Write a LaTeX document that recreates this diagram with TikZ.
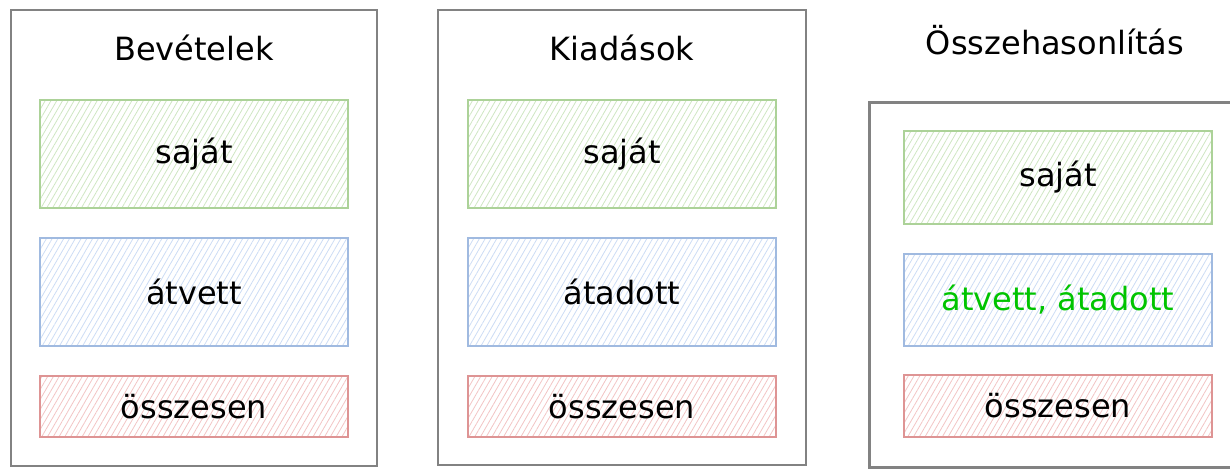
\documentclass[tikz,border=0pt]{standalone}
\usepackage{fontspec}
\setmainfont{DejaVu Sans}
\usetikzlibrary{patterns.meta}

\definecolor{sajatline}{RGB}{172,210,152}
\definecolor{sajathatch}{RGB}{206,230,194}
\definecolor{atvline}{RGB}{160,186,224}
\definecolor{atvhatch}{RGB}{204,220,244}
\definecolor{osszline}{RGB}{222,148,148}
\definecolor{osszhatch}{RGB}{242,196,196}
\definecolor{panelline}{RGB}{130,130,130}
\definecolor{kiemel}{RGB}{0,196,0}

\tikzset{
  panel/.style={draw=panelline, line width=2.6pt},
  cim/.style={font=\fontsize{32}{38}\selectfont},
  tetel/.style={font=\fontsize{32}{38}\selectfont, minimum width=308pt, line width=1.4pt},
  sajatbox/.style={tetel, draw=sajatline, pattern={Lines[angle=60,distance=5pt,line width=0.8pt]}, pattern color=sajathatch},
  atvbox/.style={tetel, draw=atvline, pattern={Lines[angle=60,distance=5pt,line width=0.8pt]}, pattern color=atvhatch},
  osszbox/.style={tetel, draw=osszline, pattern={Lines[angle=60,distance=5pt,line width=0.8pt]}, pattern color=osszhatch},
}

\begin{document}
\begin{tikzpicture}[x=1pt,y=-1pt]
    \useasboundingbox (0,0) rectangle (1230,469);
    % panels
    \node[panel, minimum width=366pt, minimum height=456pt] (bev) at (194,238) {};
    \node[panel, minimum width=368pt, minimum height=455pt] (kiad) at (622,237.5) {};
    \node[panel, anchor=north west, minimum width=370pt, minimum height=365pt] (ossz) at (868,101) {};
    % titles
    \node[cim] (bevcim) at (194,48) {Bevételek};
    \node[cim] (kiadcim) at (622,48) {Kiadások};
    \node[cim] (osszcim) at (1055,40) {Összehasonlítás};
    % Bevételek
    \node[sajatbox, minimum height=108pt] (bevsajat) at (194,154) {saját};
    \node[atvbox, minimum height=108pt] (bevatv) at (194,292) {átvett};
    \node[osszbox, minimum height=61pt] (bevossz) at (194,406.5) {összesen};
    % Kiadások
    \node[sajatbox, minimum height=108pt] (kiadsajat) at (622,154) {saját};
    \node[atvbox, minimum height=108pt] (kiadatv) at (622,292) {átadott};
    \node[osszbox, minimum height=61pt] (kiadossz) at (622,406.5) {összesen};
    % Összehasonlítás
    \node[sajatbox, minimum height=93pt] (osszsajat) at (1058,177.5) {saját};
    \node[atvbox, minimum height=92pt, text=kiemel] (osszatv) at (1058,300) {átvett, átadott};
    \node[osszbox, minimum height=62pt] (osszossz) at (1058,406) {összesen};
\end{tikzpicture}
\end{document}
